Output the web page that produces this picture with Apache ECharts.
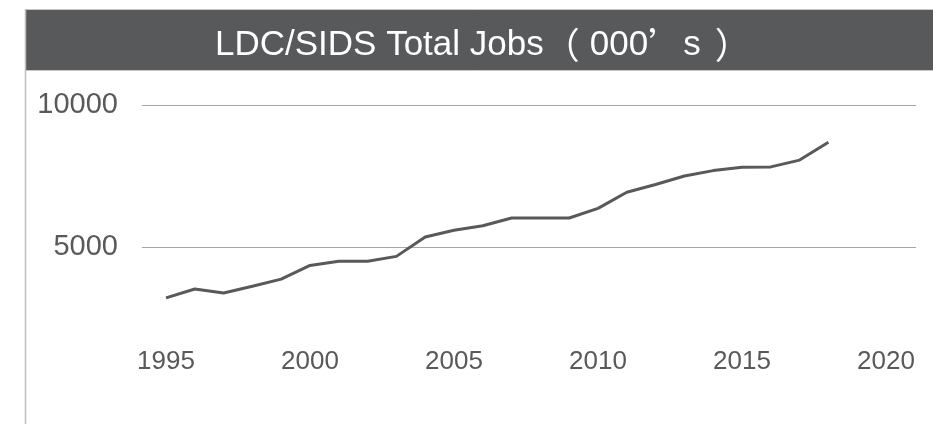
<!DOCTYPE html>
<html>
<head>
<meta charset="utf-8">
<script src="https://cdn.jsdelivr.net/npm/echarts@6/dist/echarts.min.js"></script>
<style>
html,body{margin:0;padding:0;background:#fff;}
#c{width:933px;height:424px;}
</style>
</head>
<body>
<div id="c"></div>
<script>
var titleMain = 'LDC/SIDS Total Jobs';
var titleUnit = ['（', '000', '’', 's', '）'];
var years = [1995,1996,1997,1998,1999,2000,2001,2002,2003,2004,2005,2006,2007,2008,2009,2010,2011,2012,2013,2014,2015,2016,2017,2018];
var jobs = [3210,3520,3380,3620,3870,4350,4500,4500,4670,5350,5590,5750,6020,6020,6020,6360,6930,7200,7500,7690,7810,7820,8060,8690];
var xTicks = [1995,2000,2005,2010,2015,2020];
var yTicks = [5000,10000];

var chart = echarts.init(document.getElementById('c'), null, {renderer:'canvas'});
var seriesData = years.map(function(y,i){return [y, jobs[i]];});
var font = 'Liberation Sans, Arial, Helvetica, sans-serif';
var cjk = 'Noto Sans CJK SC, sans-serif';

var richTitle = '{a|' + titleMain + '}{p1|' + titleUnit[0] + '}{a|' + titleUnit[1] + '}{c|' + titleUnit[2] + '}{a|' + titleUnit[3] + '}{p2|' + titleUnit[4] + '}';

chart.setOption({
  animation:false,
  backgroundColor:'#ffffff',
  graphic:[
    {type:'rect', z:-1, shape:{x:26,y:10,width:907,height:60}, style:{fill:'#58595b'}},
    {type:'line', z:-1, shape:{x1:26,y1:9.5,x2:933,y2:9.5}, style:{stroke:'#c8c8c8',lineWidth:1}},
    {type:'line', z:-1, shape:{x1:26,y1:70.5,x2:933,y2:70.5}, style:{stroke:'#c8c8c8',lineWidth:1}},
    {type:'line', z:-1, shape:{x1:25.5,y1:9,x2:25.5,y2:424}, style:{stroke:'#bdbdbd',lineWidth:1.5}}
  ],
  title:{
    text:richTitle,
    left:210, top:20,
    textStyle:{color:'#ffffff', fontSize:35, fontWeight:'normal', fontFamily:font, lineHeight:40,
      rich:{
        a:{color:'#ffffff', fontSize:35, fontFamily:font, lineHeight:40},
        c:{color:'#ffffff', fontSize:35, fontFamily:cjk, lineHeight:40},
        p1:{color:'#ffffff', fontSize:36, fontFamily:cjk, lineHeight:40, padding:[0,10,0,0]},
        p2:{color:'#ffffff', fontSize:36, fontFamily:cjk, lineHeight:40, padding:[0,0,0,14]}
      }}
  },
  grid:[
    {left:166, right:47, top:105, bottom:35},
    {left:142, right:17, top:105, bottom:35}
  ],
  xAxis:[
    {type:'value', gridIndex:0, min:1995, max:2020, interval:5,
     axisLine:{show:false}, axisTick:{show:false}, splitLine:{show:false},
     axisLabel:{margin:-40, fontSize:26, color:'#595959', fontFamily:font,
       formatter:function(v){return xTicks.indexOf(v)>=0 ? String(v) : '';}}},
    {type:'value', gridIndex:1, min:0, max:1, show:false}
  ],
  yAxis:[
    {type:'value', gridIndex:0, min:0, max:10000, show:false},
    {type:'value', gridIndex:1, min:0, max:10000, interval:5000,
     axisLine:{show:false}, axisTick:{show:false},
     splitLine:{show:true, lineStyle:{color:['rgba(0,0,0,0)','#a6a6a6','#a6a6a6'], width:1}},
     axisLabel:{margin:24, fontSize:29, color:'#595959', fontFamily:font,
       formatter:function(v){return yTicks.indexOf(v)>=0 ? String(v) : '';}}}
  ],
  series:[
    {type:'line', xAxisIndex:0, yAxisIndex:0, data:seriesData, showSymbol:false,
     lineStyle:{color:'#595959', width:3}, itemStyle:{color:'#595959'}}
  ]
});
</script>
</body>
</html>
